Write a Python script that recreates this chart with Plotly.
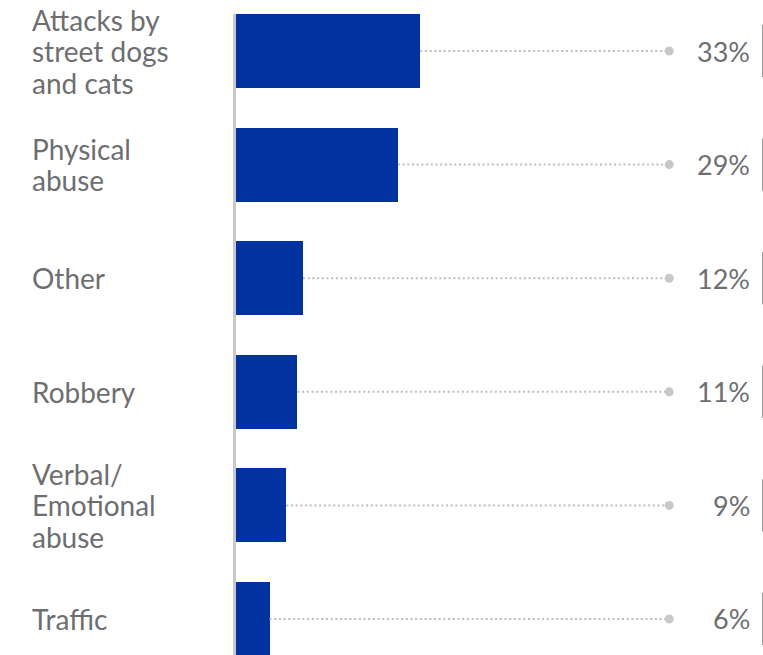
import plotly.graph_objects as go

# Data
categories = [
    "Attacks by<br>street dogs<br>and cats",
    "Physical<br>abuse",
    "Other",
    "Robbery",
    "Verbal/<br>Emotional<br>abuse",
    "Traffic",
]
shares = [33, 29, 12, 11, 9, 6]
share_labels = ["33%", "29%", "12%", "11%", "9%", "6%"]

# Styling / layout constants
BAR_COLOR = "#0033a0"
TEXT_COLOR = "#6d6e71"
AXIS_COLOR = "#c8c8ca"
LEADER_COLOR = "#bdbdc0"
FONT = "Lato, 'Open Sans', sans-serif"
W, H = 763, 655
LEFT, TOP = 236, 14
X_MAX = 94.4          # data units across the plot width
LEADER_END = 77.6     # data-unit column where leader dots sit
LINE_STEP = 31.5      # px between wrapped label lines

idx = list(range(len(categories)))

fig = go.Figure()

# Horizontal bars
fig.add_trace(go.Bar(
    x=shares, y=idx, orientation="h",
    marker=dict(color=BAR_COLOR, line=dict(width=0)),
    width=0.65, hoverinfo="skip",
))

# Dotted leaders from bar end to a round marker
for i, v in zip(idx, shares):
    fig.add_trace(go.Scatter(
        x=[v, LEADER_END], y=[i, i], mode="lines",
        line=dict(color=LEADER_COLOR, width=2, dash="2px,2.7px"),
        hoverinfo="skip",
    ))
fig.add_trace(go.Scatter(
    x=[LEADER_END] * len(idx), y=idx, mode="markers",
    marker=dict(color="#c8c8cc", size=9, line=dict(width=0)),
    hoverinfo="skip",
))

annotations = []
shapes = []
plot_w = W - LEFT
for i, (cat, lab) in enumerate(zip(categories, share_labels)):
    # category label at left, one annotation per line for tight leading
    lines = cat.split("<br>")
    n = len(lines)
    for k, line in enumerate(lines):
        annotations.append(dict(
            x=(30 - LEFT) / plot_w, xref="paper", y=i, yref="y",
            yshift=((n - 1) / 2 - k) * LINE_STEP,
            text=line, showarrow=False, xanchor="left", yanchor="middle",
            align="left", font=dict(family=FONT, size=28, color=TEXT_COLOR),
        ))
    # value label at right
    annotations.append(dict(
        x=(752 - LEFT) / plot_w, xref="paper", y=i, yref="y",
        text=lab, showarrow=False, xanchor="right", yanchor="middle",
        font=dict(family=FONT, size=27, color=TEXT_COLOR),
    ))
    # thin divider right of each value
    shapes.append(dict(
        type="line", xref="paper", yref="y",
        x0=(762.5 - LEFT) / plot_w, x1=(762.5 - LEFT) / plot_w,
        y0=i - 0.23, y1=i + 0.23,
        line=dict(color="#9a9a9c", width=1),
    ))

fig.update_layout(
    width=W, height=H,
    margin=dict(l=LEFT, r=0, t=TOP, b=0),
    paper_bgcolor="white", plot_bgcolor="white",
    showlegend=False, bargap=0,
    xaxis=dict(range=[0, X_MAX], visible=False, fixedrange=True),
    yaxis=dict(
        range=[5.317, -0.326], showticklabels=False, showgrid=False,
        zeroline=False, showline=True, linecolor=AXIS_COLOR, linewidth=3,
        ticks="",
    ),
    annotations=annotations,
    shapes=shapes,
)

fig.write_html("out.html")
